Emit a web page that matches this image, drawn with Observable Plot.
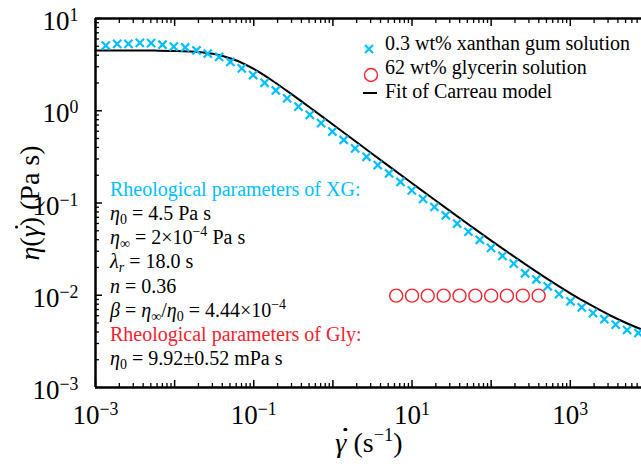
<!DOCTYPE html>
<html><head><meta charset="utf-8">
<script src="https://cdn.jsdelivr.net/npm/d3@7"></script>
<script src="https://cdn.jsdelivr.net/npm/@observablehq/plot@0.6"></script>
<style>
body{margin:0;background:#fff;}
#wrap{position:relative;width:641px;height:467px;font-family:"Liberation Serif",serif;color:#000;overflow:hidden;background:#fff}
#wrap svg{position:absolute;left:0;top:0}
#wrap svg text, #wrap svg tspan{font-family:"Liberation Serif",serif !important}
.t{position:absolute;white-space:nowrap;font-size:20px;line-height:24px;transform:translateY(-50%);font-family:"Liberation Serif",serif}
.t sub{font-size:0.7em;vertical-align:-0.28em;line-height:0}
.t sup{font-size:0.7em;vertical-align:0.55em;line-height:0}
.title{position:absolute;white-space:nowrap;font-size:28px;line-height:32px;font-family:"Liberation Serif",serif !important}
.title sup{font-size:0.66em;vertical-align:0.6em;line-height:0}
.gd{position:relative;display:inline-block}
.gd .dot{position:absolute;left:0.3em;top:0.04em;width:0.12em;height:0.12em;border-radius:50%;background:#000}
.mk{position:absolute;transform:translate(-50%,-50%)}
</style>
</head><body><div id="wrap"></div>
<script>
// ---- data ----
const xgShear = [0.00135,0.00188,0.00261,0.00363,0.00505,0.00702,0.00975,0.0136,0.0189,0.0262,
  0.0365,0.0507,0.0706,0.0982,0.137,0.190,0.264,0.367,0.511,0.710,
  0.986,1.37,1.91,2.66,3.69,5.13,7.15,9.93,13.8,19.2,
  26.7,37.2,51.6,71.8,99.8,139,193,269,373,519,
  721,1005,1396,1941,2698,3750,5224,7261];
const xgVisc = [5.09,5.30,5.30,5.45,5.40,5.20,4.95,4.85,4.50,4.17,
  3.83,3.38,2.88,2.44,2.01,1.66,1.36,1.11,0.904,0.734,
  0.595,0.482,0.391,0.317,0.257,0.209,0.169,0.137,0.111,0.0905,
  0.0736,0.0599,0.0488,0.0399,0.0326,0.0267,0.0220,0.0173,0.0149,0.0125,
  0.0103,0.0086,0.0074,0.0064,0.0055,0.0048,0.0042,0.0039];
const glyShear = [6.31,10,15.8,25.1,39.8,63.1,100,158,251,398];
const glyVisc = [0.0099,0.0099,0.0099,0.0099,0.0099,0.0099,0.0099,0.0099,0.0099,0.0099];
const fitShear = [0.001,0.00178,0.00316,0.00562,0.01,0.0178,0.0316,0.0562,0.1,0.178,
  0.316,0.562,1,1.78,3.16,5.62,10,17.8,31.6,56.2,
  100,178,316,562,1000,1780,3160,5620,10000];
const fitVisc = [4.502,4.501,4.497,4.487,4.457,4.364,4.115,3.593,2.836,2.077,
  1.466,1.021,0.709,0.491,0.340,0.236,0.164,0.114,0.0796,0.0557,
  0.0391,0.0277,0.0198,0.0143,0.0105,0.00789,0.00607,0.00482,0.00395];
// ---- ticks ----
const xMajor = [1e-3,1e-2,1e-1,1,1e1,1e2,1e3];
const xLabeled = [1e-3,1e-1,1e1,1e3];
const xLabels = ["10^−3","10^−1","10^1","10^3"];
const yMajor = [1e-3,1e-2,1e-1,1,10];
const yLabels = ["10^−3","10^−2","10^−1","10^0","10^1"];
const xMinor = []; for (const p of [1e-3,1e-2,1e-1,1,1e1,1e2,1e3]) for (let m=2;m<=9;m++) xMinor.push(p*m);
const yMinor = []; for (const p of [1e-3,1e-2,1e-1,1]) for (let m=2;m<=9;m++) yMinor.push(p*m);

const CYAN = "#00bfff", RED = "#f5222d";
const SERIF = "Liberation Serif, serif";
const xg = xgShear.map((x,i)=>({shear:x, visc:xgVisc[i]}));
const gly = glyShear.map((x,i)=>({shear:x, visc:glyVisc[i]}));
const fit = fitShear.map((x,i)=>({shear:x, visc:fitVisc[i]}));

const blank = () => "";
const chart = Plot.plot({
  width: 641, height: 467,
  marginLeft: 95, marginRight: 0, marginTop: 18, marginBottom: 80,
  style: {background: "transparent", color: "#000", overflow: "hidden", fontFamily: SERIF},
  x: {type: "log", domain: [1e-3, Math.pow(10, 3.9)], label: null},
  y: {type: "log", domain: [1e-3, 10], label: null},
  marks: [
    Plot.line(fit, {x: "shear", y: "visc", stroke: "#000", strokeWidth: 2, curve: "monotone-x"}),
    Plot.dot(gly, {x: "shear", y: "visc", r: 6.5, stroke: RED, strokeWidth: 1.4, fill: "none"}),
    Plot.dot(xg, {x: "shear", y: "visc", symbol: "times", r: 3.8, stroke: CYAN, strokeWidth: 2.2}),
    // ticks (inward)
    Plot.axisX(xMajor, {anchor: "bottom", tickSize: -7, strokeWidth: 1.5, tickFormat: blank, label: null}),
    Plot.axisX(xMinor, {anchor: "bottom", tickSize: -4, strokeWidth: 1.3, tickFormat: blank, label: null}),
    Plot.axisX(xMajor, {anchor: "top", tickSize: -7, strokeWidth: 1.5, tickFormat: blank, label: null}),
    Plot.axisX(xMinor, {anchor: "top", tickSize: -4, strokeWidth: 1.3, tickFormat: blank, label: null}),
    Plot.axisY(yMajor, {anchor: "left", tickSize: -7, strokeWidth: 1.5, tickFormat: blank, label: null}),
    Plot.axisY(yMinor, {anchor: "left", tickSize: -4, strokeWidth: 1.3, tickFormat: blank, label: null}),
    // tick labels
    Plot.axisX(xLabeled, {anchor: "bottom", tickSize: 0, tickPadding: 17, fontSize: 27, fontFamily: SERIF,
      tickFormat: d => xLabels[xLabeled.indexOf(d)], label: null}),
    Plot.axisY(yMajor, {anchor: "left", tickSize: 0, tickPadding: 17, fontSize: 27, fontFamily: SERIF, dy: 3,
      tickFormat: d => yLabels[yMajor.indexOf(d)], label: null}),
    // frame (left, top, bottom)
    Plot.ruleX([1e-3], {strokeWidth: 2.5}),
    Plot.ruleY([1e-3, 10], {strokeWidth: 2.5})
  ]
});
chart.setAttribute("font-family", SERIF);

// superscripts in tick labels
const ns = "http://www.w3.org/2000/svg";
chart.querySelectorAll("text").forEach(t => {
  t.setAttribute("font-family", SERIF);
  t.style.setProperty("font-family", SERIF, "important");
  const s = t.textContent;
  if (s.includes("^")) {
    const [b, e] = s.split("^");
    t.textContent = "";
    const t1 = document.createElementNS(ns, "tspan"); t1.textContent = b;
    const t2 = document.createElementNS(ns, "tspan"); t2.textContent = e;
    t2.setAttribute("dy", "-0.5em"); t2.setAttribute("font-size", "0.66em");
    t.appendChild(t1); t.appendChild(t2);
  }
});

const wrap = document.getElementById("wrap");
wrap.appendChild(chart);

const gdot = '<span class="gd"><i>γ</i><span class="dot"></span></span>';
const html = `
<div class="mk" style="left:363px;top:43px"><svg width="12" height="12"><path d="M2,2L10,10M10,2L2,10" stroke="${CYAN}" stroke-width="2.2"/></svg></div>
<div class="t" style="left:385px;top:43px">0.3 wt% xanthan gum solution</div>
<div class="mk" style="left:363px;top:67px"><svg width="16" height="16"><circle cx="8" cy="8" r="6.5" fill="none" stroke="${RED}" stroke-width="1.4"/></svg></div>
<div class="t" style="left:385px;top:67px">62 wt% glycerin solution</div>
<div class="mk" style="left:363px;top:91px"><svg width="14" height="4"><path d="M0,2H14" stroke="#000" stroke-width="2"/></svg></div>
<div class="t" style="left:385px;top:91px">Fit of Carreau model</div>

<div class="t" style="left:110px;top:189px;color:${CYAN}">Rheological parameters of XG:</div>
<div class="t" style="left:110px;top:213px"><i>η</i><sub>0</sub> = 4.5 Pa s</div>
<div class="t" style="left:110px;top:237px"><i>η</i><sub>∞</sub> = 2×10<sup>−4</sup> Pa s</div>
<div class="t" style="left:110px;top:261px"><i>λ<sub>r</sub></i> = 18.0 s</div>
<div class="t" style="left:110px;top:286px"><i>n</i> = 0.36</div>
<div class="t" style="left:110px;top:310px"><i>β</i> = <i>η</i><sub>∞</sub>/<i>η</i><sub>0</sub> = 4.44×10<sup>−4</sup></div>
<div class="t" style="left:110px;top:334px;color:${RED}">Rheological parameters of Gly:</div>
<div class="t" style="left:110px;top:358px"><i>η</i><sub>0</sub> = 9.92±0.52 mPa s</div>

<div class="title" style="left:369px;top:443px;transform:translate(-50%,-50%)">${gdot} (s<sup>−1</sup>)</div>
<div class="title" style="left:30px;top:203px;transform:translate(-50%,-50%) rotate(-90deg)"><i>η</i>(${gdot}) (Pa s)</div>
`;
wrap.insertAdjacentHTML("beforeend", html);
</script>
</body></html>
